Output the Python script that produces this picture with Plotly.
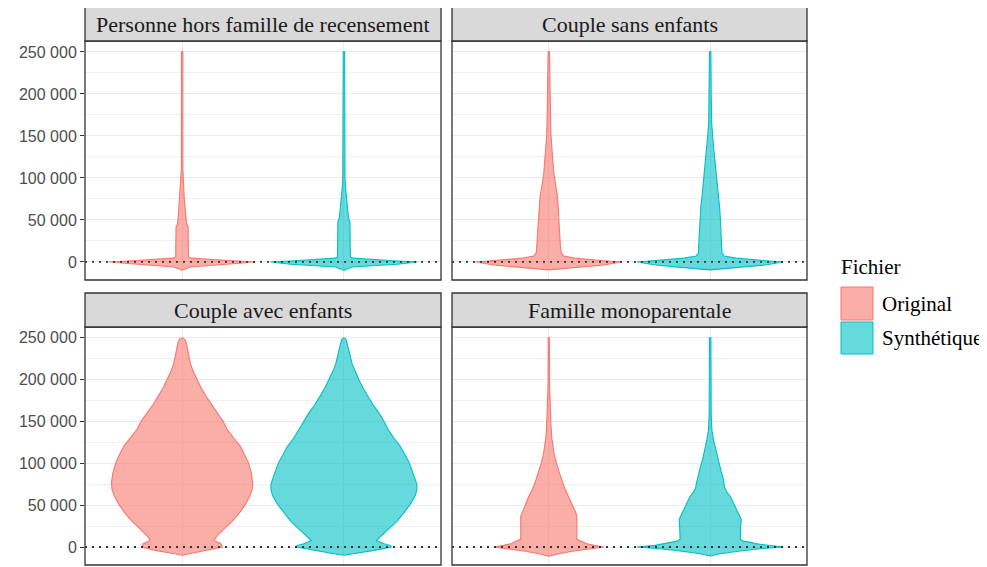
import numpy as np
import plotly.graph_objects as go

# ---------------- data ----------------
panels = ["Personne hors famille de recensement", "Couple sans enfants",
          "Couple avec enfants", "Famille monoparentale"]
series = ["Original", "Synthétique"]
y_tickvals = [0, 50000, 100000, 150000, 200000, 250000]
y_ticktext = ["0", "50 000", "100 000", "150 000", "200 000", "250 000"]
y_minorvals = [25000, 75000, 125000, 175000, 225000]

# violin density profiles: income level and relative density (max = 72.5)
DENS_MAX = 72.5

phf_orig_y = [-10000, -6000, -2800, 0, 1500, 3000, 4500, 6000, 20000, 42000, 45000, 55000,
              65000, 76000, 85000, 96000, 106000, 112000, 250000]
phf_orig_d = [0, 8, 44, 73, 50, 25, 9, 6.3, 6.3, 6.0, 4.6, 3.7,
              2.9, 2.1, 1.8, 1.3, 1.0, 0.7, 0.7]
phf_syn_y = [-10000, -6000, -2800, 0, 1500, 3000, 4500, 6000, 20000, 48000, 52000, 60000,
             73800, 80000, 90000, 100000, 155000, 160000, 250000]
phf_syn_d = [0, 8, 53, 73, 49, 25, 9, 6.4, 6.4, 6.0, 4.6, 3.8,
             2.8, 2.3, 1.5, 1.1, 0.8, 0.7, 0.7]

cse_orig_y = [-9500, -7100, -3600, -1500, 0, 1500, 3000, 4500, 7000, 10700, 20000, 30000, 42000,
              55000, 65000, 77700, 90000, 105900, 120000, 133000, 150000, 165000, 181000, 200000, 250000]
cse_orig_d = [0, 23, 55, 65, 73, 55, 40, 26, 15, 12.5, 11.5, 11.0, 10.7,
              10.0, 9.5, 8.7, 7.0, 5.0, 4.0, 3.0, 2.2, 1.8, 1.5, 1.0, 0.7]
cse_syn_y = [-9500, -7100, -3600, -1500, 0, 1500, 3000, 4500, 7000, 10700, 30000, 42000, 55000,
             65900, 80000, 95000, 106000, 120000, 133000, 150000, 165000, 200000, 250000]
cse_syn_d = [0, 23, 55, 65, 73, 55, 40, 26, 14, 11.7, 11.0, 10.8, 10.0,
             9.3, 8.0, 6.5, 5.8, 4.5, 3.7, 2.5, 1.5, 1.0, 0.7]

cae_orig_y = [-9800, -8000, -4000, 0, 4000, 7700, 13700, 21600, 31000, 41400, 51000, 61200,
              69000, 77100, 88000, 100900, 110000, 120700, 130000, 140500, 150000, 160000,
              170000, 179800, 190000, 199600, 210000, 219500, 230000, 239000, 245000, 248500, 250000]
cae_orig_d = [0, 7.5, 26.7, 40, 38.7, 31.7, 35, 41.7, 50, 57.5, 63, 67.5,
              69.8, 70.3, 69, 66, 62.5, 58, 51.5, 45, 41, 35,
              29, 24, 19, 15, 11, 8.3, 6.5, 5, 4, 2.5, 0]
cae_syn_y = [-9800, -8000, -4000, 0, 1700, 4000, 7700, 13700, 21600, 31000, 41400, 51000, 61200,
             68000, 75000, 88000, 100900, 110000, 120700, 130000, 140500, 150000, 160000,
             170000, 179800, 190000, 199600, 210000, 219500, 230000, 239000, 245000, 248500, 250000]
cae_syn_d = [0, 10, 30, 47, 46.7, 40, 32.5, 37.5, 45, 53, 60, 66, 71,
             72.5, 72.7, 69, 65, 61, 56, 50, 44, 40, 35,
             29, 24, 19, 15, 11, 8, 6, 4, 3, 2, 0]

fm_orig_y = [-11000, -8000, -4700, -2000, 0, 2000, 4000, 7100, 9200, 20000, 30000, 36900, 40900,
             50000, 60700, 70000, 80600, 90000, 100500, 110000, 120200, 130000, 144000, 160000,
             191700, 250000]
fm_orig_d = [0, 10, 25, 42, 55, 45, 38, 32, 28, 28, 28, 28, 27,
             23.5, 20, 16, 12.8, 10, 7.5, 5.5, 4.2, 3, 2.2, 1.5,
             0.8, 0.6]
fm_syn_y = [-10700, -8000, -4700, -2000, 0, 2000, 4000, 5200, 7000, 9200, 17100, 25000, 33000,
            40900, 50000, 60700, 65000, 70700, 75000, 80600, 90000, 96400, 105000, 112400,
            120000, 128000, 140000, 160000, 250000]
fm_syn_d = [0, 10, 30, 50, 73, 55, 45, 42, 33, 30, 30, 30.5, 31,
            28, 24, 20, 17, 14.5, 14, 13.3, 11, 9.7, 7.5, 5.8,
            4.5, 3.3, 1.7, 1, 0.7]

profiles = [
    [(phf_orig_y, phf_orig_d), (phf_syn_y, phf_syn_d)],
    [(cse_orig_y, cse_orig_d), (cse_syn_y, cse_syn_d)],
    [(cae_orig_y, cae_orig_d), (cae_syn_y, cae_syn_d)],
    [(fm_orig_y, fm_orig_d), (fm_syn_y, fm_syn_d)],
]

# ---------------- styling ----------------
line_colors = ["#F8766D", "#00BFC4"]
fill_colors = ["rgba(248,118,109,0.6)", "rgba(0,191,196,0.6)"]
max_half = 0.45  # violin width 0.9 in category units
W, H = 987, 567
OFF = 8  # page body margin


def px(xp):
    return (xp - OFF) / W


def py(yp):
    return 1 - (yp - OFF) / H


x_domains = [[px(85), px(441)], [px(452), px(807)], [px(85), px(441)], [px(452), px(807)]]
y_domains = [[py(280), py(41)], [py(280), py(41)], [py(565), py(327)], [py(565), py(327)]]
strip_y = [(7, 41), (7, 41), (293, 327), (293, 327)]

fig = go.Figure()

for i in range(4):
    xa = "x" if i == 0 else f"x{i+1}"
    ya = "y" if i == 0 else f"y{i+1}"
    for j in range(2):
        yv = np.array(profiles[i][j][0], dtype=float)
        wv = np.array(profiles[i][j][1], dtype=float) / DENS_MAX * max_half
        center = j + 1
        xs = np.concatenate([center + wv, (center - wv)[::-1]])
        ys = np.concatenate([yv, yv[::-1]])
        fig.add_trace(go.Scatter(
            x=xs, y=ys, xaxis=xa, yaxis=ya, mode="lines", fill="toself",
            fillcolor=fill_colors[j], line=dict(color=line_colors[j], width=1.1),
            name=series[j], showlegend=False, hoverinfo="skip"))

layout = dict(
    width=W, height=H, margin=dict(l=0, r=0, t=0, b=0),
    paper_bgcolor="white", plot_bgcolor="white", showlegend=False,
)
grid = "#EBEBEB"
for i in range(4):
    sfx = "" if i == 0 else str(i + 1)
    left = i in (0, 2)
    layout["xaxis" + sfx] = dict(
        domain=x_domains[i], anchor="y" + sfx, range=[0.4, 2.6],
        tickvals=[1, 2], showticklabels=False, ticks="",
        showgrid=True, gridcolor=grid, gridwidth=1.1, zeroline=False, showline=False)
    layout["yaxis" + sfx] = dict(
        domain=y_domains[i], anchor="x" + sfx, range=[-21500, 263000],
        tickmode="array", tickvals=y_tickvals, ticktext=y_ticktext,
        showticklabels=left, ticks="outside" if left else "", ticklen=4,
        tickcolor="#333333", tickwidth=1,
        tickfont=dict(family="Liberation Sans, Arial", size=16, color="#4D4D4D"),
        showgrid=True, gridcolor=grid, gridwidth=1.1, zeroline=False, showline=False,
        minor=dict(tickmode="array", tickvals=y_minorvals, showgrid=True,
                   gridcolor="#F0F0F0", gridwidth=0.6, ticks=""))
fig.update_layout(**layout)

shapes = []
annotations = []
for i in range(4):
    sfx = "" if i == 0 else str(i + 1)
    x0, x1 = x_domains[i]
    y0, y1 = y_domains[i]
    # zero reference line (dotted)
    shapes.append(dict(type="line", xref=f"x{sfx} domain", x0=0, x1=1, yref="y" + sfx, y0=0, y1=0,
                       line=dict(color="#333333", width=1.8, dash="2px,5px"), layer="above"))
    # panel border
    shapes.append(dict(type="rect", xref="paper", yref="paper", x0=x0, x1=x1, y0=y0, y1=y1,
                       line=dict(color="#333333", width=1.3), fillcolor="rgba(0,0,0,0)", layer="above"))
    # strip
    st, sb = strip_y[i]
    shapes.append(dict(type="rect", xref="paper", yref="paper", x0=x0, x1=x1, y0=py(sb), y1=py(st),
                       line=dict(color="#333333", width=1.3), fillcolor="#D9D9D9", layer="above"))
    annotations.append(dict(text=panels[i], xref="paper", yref="paper", x=(x0 + x1) / 2,
                            y=py((st + sb) / 2), xanchor="center", yanchor="middle", showarrow=False,
                            font=dict(family="Liberation Serif, Times New Roman", size=22, color="#1A1A1A")))

# legend (manual)
annotations.append(dict(text="Fichier", xref="paper", yref="paper", x=px(839), y=py(267),
                        xanchor="left", yanchor="middle", showarrow=False,
                        font=dict(family="Liberation Serif, Times New Roman", size=21, color="#000000")))
key_rows = [(287, 320), (322, 354)]
for j in range(2):
    kt, kb = key_rows[j]
    shapes.append(dict(type="rect", xref="paper", yref="paper", x0=px(841), x1=px(873),
                       y0=py(kb), y1=py(kt), fillcolor=fill_colors[j],
                       line=dict(color=line_colors[j], width=1)))
    annotations.append(dict(text=series[j], xref="paper", yref="paper", x=px(880),
                            y=py((kt + kb) / 2), xanchor="left", yanchor="middle", showarrow=False,
                            font=dict(family="Liberation Serif, Times New Roman", size=21, color="#000000")))

fig.update_layout(shapes=shapes, annotations=annotations)
fig.write_html("out.html")
